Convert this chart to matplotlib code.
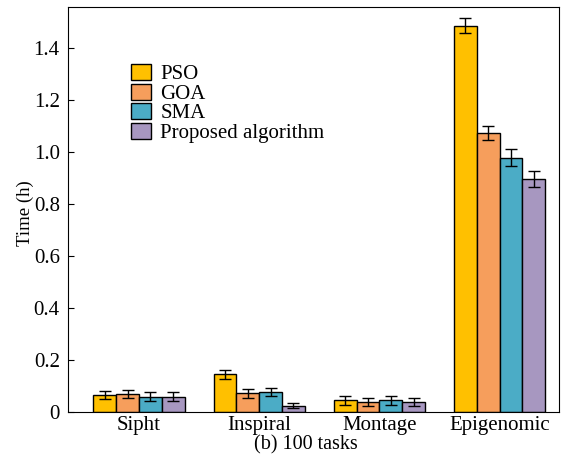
import numpy as np
import matplotlib.pyplot as plt

plt.rcParams['font.family'] = ['Liberation Serif', 'DejaVu Serif']

workflows = ['Sipht', 'Inspiral', 'Montage', 'Epigenomic']
algos = ['PSO', 'GOA', 'SMA', 'Proposed algorithm']
colors = ['#FFC000', '#F69E5C', '#4BACC6', '#A797C0']

# mean time (h) per workflow, one list per algorithm
pso = [0.065, 0.145, 0.045, 1.488]
goa = [0.070, 0.072, 0.040, 1.075]
sma = [0.060, 0.077, 0.045, 0.980]
prop = [0.060, 0.025, 0.038, 0.898]
# error bar half-lengths
pso_err = [0.016, 0.016, 0.016, 0.030]
goa_err = [0.017, 0.016, 0.016, 0.028]
sma_err = [0.016, 0.015, 0.016, 0.032]
prop_err = [0.016, 0.011, 0.016, 0.032]

values = [pso, goa, sma, prop]
errors = [pso_err, goa_err, sma_err, prop_err]

fig = plt.figure(figsize=(5.63, 4.61), dpi=100)
ax = fig.add_axes([0.121, 0.106, 0.872, 0.879])

x = np.arange(len(workflows))
w = 0.19
for i in range(4):
    ax.bar(x + (i - 1.5) * w, values[i], w, yerr=errors[i], color=colors[i],
           edgecolor='black', linewidth=1.0, label=algos[i],
           error_kw=dict(ecolor='black', elinewidth=1.0, capsize=4, capthick=1.0))

ax.set_xlim(-0.59, 3.495)
ax.set_ylim(0, 1.56)
ax.set_xticks(x)
ax.set_xticklabels(workflows)
ax.set_yticks([0, 0.2, 0.4, 0.6, 0.8, 1.0, 1.2, 1.4])
ax.set_yticklabels(['0', '0.2', '0.4', '0.6', '0.8', '1.0', '1.2', '1.4'])
ax.tick_params(axis='both', direction='in', labelsize=15)
ax.tick_params(axis='y', length=4.5, pad=6)
ax.tick_params(axis='x', length=0, pad=3)
ax.set_ylabel('Time (h)', fontsize=13.5, labelpad=0, y=0.49)
ax.set_xlabel('(b) 100 tasks', fontsize=14.5, labelpad=0, x=0.484)

fig.legend(loc='upper left', bbox_to_anchor=(0.233, 0.861), frameon=False,
           fontsize=15, handlelength=0.95, handleheight=0.8, handletextpad=0.45,
           labelspacing=-0.03, borderaxespad=0, borderpad=0)

fig.savefig('out.png', dpi=100)
